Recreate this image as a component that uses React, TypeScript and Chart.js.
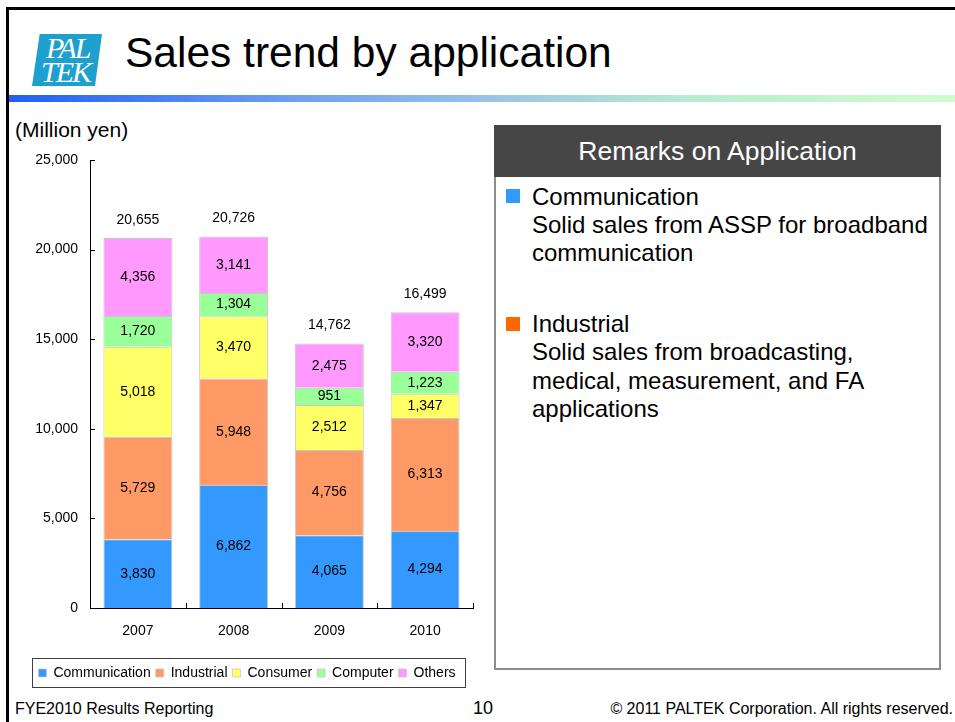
import React, { useEffect, useRef } from "react";
import { Chart, registerables } from "chart.js";

Chart.register(...registerables);

const FONT = "'Liberation Sans', Arial, sans-serif";

const categories = ["2007", "2008", "2009", "2010"];
const communication = [3830, 6862, 4065, 4294];
const industrial = [5729, 5948, 4756, 6313];
const consumer = [5018, 3470, 2512, 1347];
const computer = [1720, 1304, 951, 1223];
const others = [4356, 3141, 2475, 3320];
const totals = [20655, 20726, 14762, 16499];
const seriesNames = ["Communication", "Industrial", "Consumer", "Computer", "Others"];
const seriesColors = ["#3399ff", "#ff9966", "#ffff66", "#99ff99", "#ff99ff"];
const yMin = 0;
const yMax = 25000;
const yStep = 5000;

const fmt = (v: number) => Number(v).toLocaleString("en-US");

const segLabels = {
  id: "segLabels",
  afterDatasetsDraw(chart: any) {
    const ctx = chart.ctx;
    ctx.save();
    ctx.font = `14px ${FONT}`;
    ctx.fillStyle = "#000";
    ctx.textAlign = "center";
    ctx.textBaseline = "middle";
    chart.data.datasets.forEach((ds: any, i: number) => {
      const meta = chart.getDatasetMeta(i);
      meta.data.forEach((el: any, j: number) => {
        const p = el.getProps(["x", "y", "base"], true);
        ctx.fillText(fmt(ds.data[j]), p.x, (p.y + p.base) / 2);
      });
    });
    const last = chart.getDatasetMeta(chart.data.datasets.length - 1);
    last.data.forEach((el: any, j: number) => {
      const p = el.getProps(["x", "y"], true);
      ctx.fillText(fmt(totals[j]), p.x, p.y - 18);
    });
    ctx.restore();
  },
};

const innerTicks = {
  id: "innerTicks",
  afterDraw(chart: any) {
    const { ctx, chartArea, scales } = chart;
    ctx.save();
    ctx.strokeStyle = "#000";
    ctx.lineWidth = 1;
    const ys = scales.y;
    ys.ticks.forEach((t: any) => {
      const py = Math.round(ys.getPixelForValue(t.value)) + 0.5;
      ctx.beginPath();
      ctx.moveTo(chartArea.left, py);
      ctx.lineTo(chartArea.left + 5, py);
      ctx.stroke();
    });
    const xs = scales.x;
    const n = categories.length;
    const c0 = xs.getPixelForValue(0);
    const c1 = xs.getPixelForValue(1);
    const half = (c1 - c0) / 2;
    for (let i = 0; i <= n; i++) {
      const px = Math.round(c0 - half + i * 2 * half) + 0.5;
      ctx.beginPath();
      ctx.moveTo(px, chartArea.bottom);
      ctx.lineTo(px, chartArea.bottom - 5);
      ctx.stroke();
    }
    ctx.restore();
  },
};

const legendBox = {
  id: "legendBox",
  afterDraw(chart: any) {
    const boxes = chart.legend && chart.legend.legendHitBoxes;
    if (!boxes || !boxes.length) return;
    const ctx = chart.ctx;
    const left = Math.min(...boxes.map((b: any) => b.left));
    const right = Math.max(...boxes.map((b: any) => b.left + b.width));
    const cy = boxes[0].top + boxes[0].height / 2;
    ctx.save();
    ctx.strokeStyle = "#404040";
    ctx.lineWidth = 1;
    ctx.strokeRect(Math.round(left - 6) + 0.5, Math.round(cy - 15) + 0.5, Math.round(right - left + 16), 29);
    ctx.restore();
  },
};

function SalesChart() {
  const ref = useRef<HTMLCanvasElement | null>(null);
  useEffect(() => {
    if (!ref.current) return;
    const seriesValues = [communication, industrial, consumer, computer, others];
    const chart = new Chart(ref.current, {
      type: "bar",
      data: {
        labels: categories,
        datasets: seriesNames.map((name, i) => ({
          label: name,
          data: seriesValues[i],
          backgroundColor: seriesColors[i],
          borderColor: "#c8c8c8",
          borderWidth: { top: 1, left: 1, right: 1, bottom: 0 },
          borderSkipped: false,
          barPercentage: 0.72,
          categoryPercentage: 1.0,
        })),
      },
      options: {
        animation: false,
        responsive: false,
        devicePixelRatio: 1,
        layout: { padding: { left: 21, right: 12, top: 30, bottom: 5 } },
        plugins: {
          legend: {
            position: "bottom",
            labels: {
              boxWidth: 8,
              boxHeight: 8,
              padding: 5,
              color: "#000",
              font: { family: FONT, size: 14 },
            },
          },
          tooltip: { enabled: false },
          title: { display: false },
        },
        scales: {
          x: {
            stacked: true,
            grid: { display: false, offset: true, drawTicks: false, tickLength: 0 },
            border: { display: true, color: "#000", width: 1 },
            ticks: { color: "#000", font: { family: FONT, size: 14 }, padding: 15 },
            afterFit: (s: any) => {
              s.height = 53;
            },
          },
          y: {
            stacked: true,
            min: yMin,
            max: yMax,
            grid: { display: false, drawTicks: false, tickLength: 0 },
            border: { display: true, color: "#000", width: 1 },
            ticks: {
              stepSize: yStep,
              color: "#000",
              font: { family: FONT, size: 14 },
              padding: 12,
              callback: (v: any) => fmt(v),
            },
            afterFit: (s: any) => {
              s.width = 69;
            },
          },
        },
      } as any,
      plugins: [segLabels, innerTicks, legendBox],
    });
    return () => chart.destroy();
  }, []);
  return (
    <canvas
      ref={ref}
      width={485}
      height={565}
      style={{ position: "absolute", left: 0, top: 130, width: 485, height: 565, display: "block" }}
    />
  );
}

export default function App() {
  const abs = (s: React.CSSProperties): React.CSSProperties => ({ position: "absolute", ...s });
  return (
    <div style={abs({ left: 0, top: 0, width: 955, height: 722, overflow: "hidden", background: "#fff", fontFamily: FONT, color: "#000" })}>
      {/* frame */}
      <div style={abs({ left: 6, top: 7, width: 949, height: 3, background: "#000" })} />
      <div style={abs({ left: 6, top: 7, width: 3, height: 715, background: "#000" })} />
      {/* logo */}
      <div
        style={abs({
          left: 32,
          top: 34,
          width: 70,
          height: 52,
          background: "#1ea0cf",
          clipPath: "polygon(11% 0, 100% 0, 90% 100%, 0 100%)",
          overflow: "hidden",
        })}
      >
        <div style={abs({ left: 14, top: -1, color: "#fff", font: "italic 30px 'Liberation Serif', serif", lineHeight: "30px", letterSpacing: -2 })}>PAL</div>
        <div style={abs({ left: 9, top: 23, color: "#fff", font: "italic 30px 'Liberation Serif', serif", lineHeight: "30px", letterSpacing: -2 })}>TEK</div>
      </div>
      {/* title */}
      <div style={abs({ left: 125, top: 31.5, fontSize: 42.5, lineHeight: "42.5px", whiteSpace: "nowrap" })}>Sales trend by application</div>
      {/* gradient rule */}
      <div
        style={abs({
          left: 9,
          top: 95,
          width: 946,
          height: 7,
          background: "linear-gradient(to right, #1f5ff5 0%, #6f9ff0 30%, #9cc6e4 52%, #b8ecd0 72%, #ccffcc 100%)",
        })}
      />
      {/* unit label */}
      <div style={abs({ left: 15, top: 119, fontSize: 21, lineHeight: "21px", whiteSpace: "nowrap" })}>(Million yen)</div>
      <SalesChart />
      {/* remarks box */}
      <div style={abs({ left: 494, top: 125, width: 447, height: 545, boxSizing: "border-box", border: "2px solid #8c8c8c", background: "#fff" })} />
      <div
        style={abs({
          left: 494,
          top: 125,
          width: 447,
          height: 52,
          background: "#464646",
          color: "#fff",
          fontSize: 26.5,
          display: "flex",
          alignItems: "center",
          justifyContent: "center",
          whiteSpace: "nowrap",
        })}
      >
        Remarks on Application
      </div>
      <div style={abs({ left: 506, top: 189, width: 14, height: 14, background: "#3399ff" })} />
      <div style={abs({ left: 532, top: 182.6, fontSize: 24, lineHeight: "28.4px", whiteSpace: "nowrap" })}>
        Communication
        <br />
        Solid sales from ASSP for broadband
        <br />
        communication
      </div>
      <div style={abs({ left: 506, top: 317, width: 14, height: 14, background: "#ff6600" })} />
      <div style={abs({ left: 532, top: 309.8, fontSize: 24, lineHeight: "28.4px", whiteSpace: "nowrap" })}>
        Industrial
        <br />
        Solid sales from broadcasting,
        <br />
        medical, measurement, and FA
        <br />
        applications
      </div>
      {/* footer */}
      <div style={abs({ left: 15, top: 700.5, fontSize: 16, lineHeight: "16px", whiteSpace: "nowrap" })}>FYE2010 Results Reporting</div>
      <div style={abs({ left: 473, top: 699, fontSize: 18, lineHeight: "18px", whiteSpace: "nowrap" })}>10</div>
      <div style={abs({ left: 0, width: 953, top: 700.5, fontSize: 16, lineHeight: "16px", textAlign: "right", whiteSpace: "nowrap" })}>
        © 2011 PALTEK Corporation. All rights reserved.
      </div>
    </div>
  );
}
